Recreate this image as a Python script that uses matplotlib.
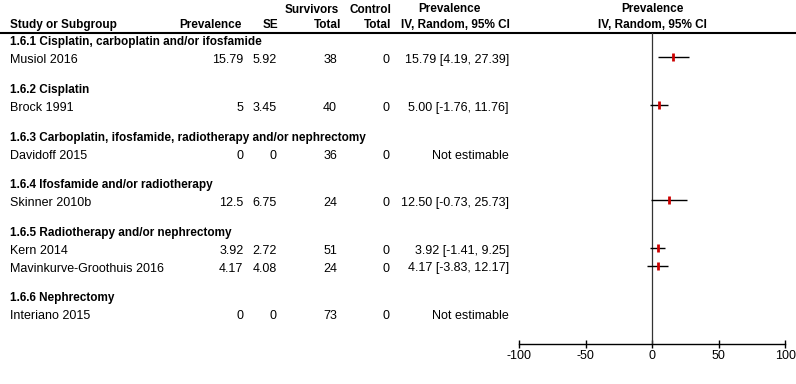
import matplotlib
matplotlib.use("Agg")
import matplotlib.pyplot as plt
import numpy as np

plt.rcParams["font.family"] = ["Liberation Sans", "DejaVu Sans"]
plt.rcParams["axes.unicode_minus"] = False

# --- data -------------------------------------------------------------------
subgroups = [
    "1.6.1 Cisplatin, carboplatin and/or ifosfamide",
    "1.6.2 Cisplatin",
    "1.6.3 Carboplatin, ifosfamide, radiotherapy and/or nephrectomy",
    "1.6.4 Ifosfamide and/or radiotherapy",
    "1.6.5 Radiotherapy and/or nephrectomy",
    "1.6.6 Nephrectomy",
]
studies = ["Musiol 2016", "Brock 1991", "Davidoff 2015", "Skinner 2010b",
           "Kern 2014", "Mavinkurve-Groothuis 2016", "Interiano 2015"]
study_group = [0, 1, 2, 3, 4, 4, 5]
prevalence = ["15.79", "5", "0", "12.5", "3.92", "4.17", "0"]
se = ["5.92", "3.45", "0", "6.75", "2.72", "4.08", "0"]
survivors_total = [38, 40, 36, 24, 51, 24, 73]
control_total = [0, 0, 0, 0, 0, 0, 0]
estimate = [15.79, 5.00, np.nan, 12.50, 3.92, 4.17, np.nan]
ci_low = [4.19, -1.76, np.nan, -0.73, -1.41, -3.83, np.nan]
ci_high = [27.39, 11.76, np.nan, 25.73, 9.25, 12.17, np.nan]
ticks = [-100, -50, 0, 50, 100]

W, H = 796, 384
FS = 9
FSB = 8.5  # bold text renders a bit narrower in the original
RED = "#CC0000"

fig = plt.figure(figsize=(W / 100, H / 100), dpi=100)
tab = fig.add_axes([0, 0, 1, 1])
tab.set_xlim(0, W)
tab.set_ylim(H, 0)
tab.axis("off")


def bold(x, y, s, ha):
    tab.text(x, y, s, ha=ha, va="center", fontsize=FSB, weight="bold")


# header
bold(339, 10, "Survivors", "right")
bold(391, 10, "Control", "right")
bold(449, 9, "Prevalence", "center")
bold(652, 9, "Prevalence", "center")
bold(10, 25, "Study or Subgroup", "left")
bold(242, 25, "Prevalence", "right")
bold(278, 25, "SE", "right")
bold(341, 25, "Total", "right")
bold(391, 25, "Total", "right")
bold(455, 25, "IV, Random, 95% CI", "center")
bold(652, 25, "IV, Random, 95% CI", "center")
tab.plot([0, W], [32.5, 32.5], color="black", lw=1.5, solid_capstyle="butt")

# row layout
y = 41.5
rows = []
prev_group = None
for i, g in enumerate(study_group):
    if g != prev_group:
        if prev_group is not None:
            y += 30.3
        bold(10, y + 0.5, subgroups[g], "left")
        y += 17.5
        prev_group = g
    else:
        y += 17.3
    rows.append(y)

for i, ry in enumerate(rows):
    ty = ry + 1
    tab.text(10, ty, studies[i], ha="left", va="center", fontsize=FS)
    tab.text(243.5, ty, prevalence[i], ha="right", va="center", fontsize=FS)
    tab.text(276.5, ty, se[i], ha="right", va="center", fontsize=FS)
    tab.text(337, ty, str(survivors_total[i]), ha="right", va="center", fontsize=FS)
    tab.text(389.5, ty, str(control_total[i]), ha="right", va="center", fontsize=FS)
    if np.isnan(estimate[i]):
        ci_txt = "Not estimable"
    else:
        ci_txt = f"{estimate[i]:.2f} [{ci_low[i]:.2f}, {ci_high[i]:.2f}]"
    tab.text(509, ty, ci_txt, ha="right", va="center", fontsize=FS)

# forest panel: x from -100..100 mapped to pixels 519..785, rows share pixel y
x0, x1 = 519.3, 785.3
y_top, y_axis = 32.5, 344
fa = fig.add_axes([x0 / W, 1 - y_axis / H, (x1 - x0) / W, (y_axis - y_top) / H])
fa.set_xlim(-100, 100)
fa.set_ylim(y_axis, y_top)
fa.patch.set_alpha(0)
for s in ("top", "left", "right"):
    fa.spines[s].set_visible(False)
fa.spines["bottom"].set_linewidth(1.0)
fa.set_yticks([])
fa.set_xticks(ticks)
fa.set_xticklabels([str(t) for t in ticks], fontsize=FS)
fa.tick_params(axis="x", direction="inout", length=6, width=1.0, pad=1)
fa.axvline(0, color="#333333", lw=0.9)

mark_dy = -2.0
for i, ry in enumerate(rows):
    if np.isnan(estimate[i]):
        continue
    fa.plot([ci_low[i], ci_high[i]], [ry + mark_dy] * 2, color="black", lw=1.0,
            solid_capstyle="butt")
    fa.plot(estimate[i], ry + mark_dy, marker="|", color=RED, markersize=6,
            markeredgewidth=2.0)

fig.savefig("out.png", dpi=100)
